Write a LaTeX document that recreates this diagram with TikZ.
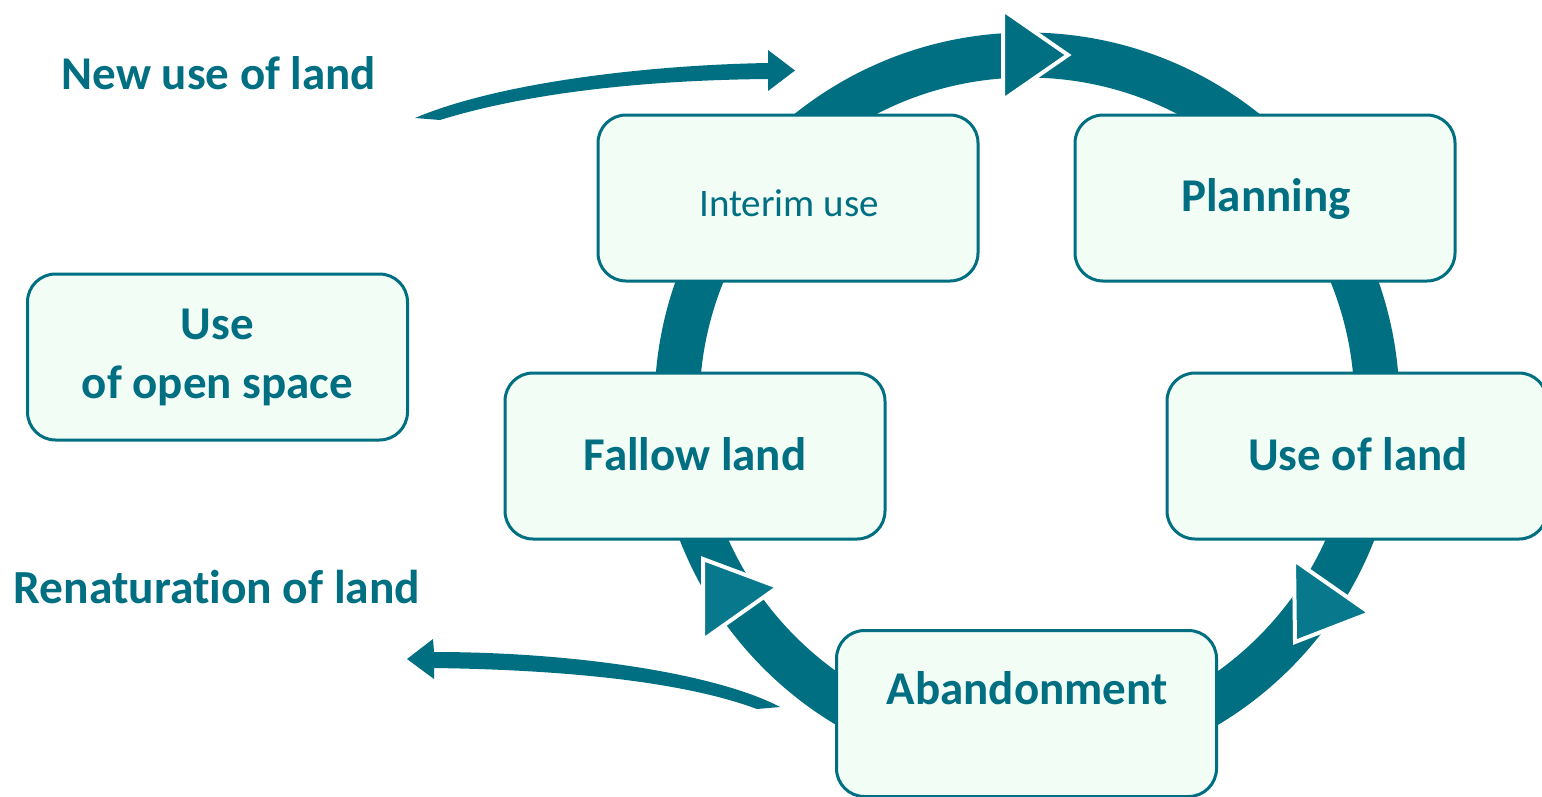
\documentclass[tikz,border=0pt]{standalone}
\usepackage{fontspec}
\setmainfont{Carlito}[Ligatures=NoCommon]
\definecolor{tealA}{HTML}{006F82}
\definecolor{tealB}{HTML}{08788D}
\definecolor{mint}{HTML}{F2FDF5}
\begin{document}
\begin{tikzpicture}[x=1pt,y=-1pt,
  box/.style={draw=tealA, line width=3pt, fill=mint, rounded corners=28pt,
    minimum width=380pt, minimum height=166pt, inner sep=0pt, text=tealA,
    font=\bfseries\fontsize{47}{59}\selectfont, align=center},
  lbl/.style={text=tealA, font=\bfseries\fontsize{47}{56}\selectfont, inner sep=0pt},
  ringline/.style={draw=tealA, line width=45pt},
  tri/.style={fill=tealA, draw=white, line width=4pt, line join=miter},
  bigarrow/.style={fill=tealA}]
\useasboundingbox (0,0) rectangle (1542,796);
\fill[white] (0,0) rectangle (1542,796);
% ring
\coordinate (c) at (1027,405);
\draw[ringline] (c) circle[radius=350pt];
% arrowheads on ring
\filldraw[tri] (1003,10) -- (1068,55) -- (1003,100) -- cycle;
\filldraw[tri, fill=tealB] (1294,560) -- (1370,613) -- (1295,642) -- cycle;
\filldraw[tri, fill=tealB] (703,559) -- (778,587) -- (703,640) -- cycle;
% curved arrows
\fill[bigarrow] (415,118) .. controls (500,82) and (650,65) .. (768,63)
  -- (768,50) -- (795,70.5) -- (768,91) -- (768,79)
  .. controls (650,80) and (530,92) .. (440,120) -- cycle;
\fill[bigarrow] (780,707) .. controls (720,675) and (580,652) .. (434,652)
  -- (433,639) -- (407,659) -- (434,679) -- (434,668)
  .. controls (580,670) and (690,684) .. (757,709) -- cycle;
% labels
\node[lbl] (newuse) at (219,73) {New use of land};
\node[lbl,font=\bfseries\fontsize{47.5}{56}\selectfont] (renat) at (217,587) {Renaturation of land};
% boxes
\node[box] (interim) at (788,198) {};
\node[lbl,font=\fontsize{39}{46}\selectfont] (interimT) at (789,203) {Interim use};
\node[box] (planning) at (1265,198) {};
\node[lbl] (planningT) at (1266,199) {Planning};
\node[box] (open) at (217.5,357) {Use\\of open space};
\node[box] (fallow) at (695,456) {};
\node[lbl] (fallowT) at (695,454) {Fallow land};
\node[box] (useland) at (1357,456) {};
\node[lbl] (uselandT) at (1358,454) {Use of land};
\node[box] (abandon) at (1026.5,713.5) {};
\node[lbl] (abandonT) at (1027,688) {Abandonment};
\end{tikzpicture}
\end{document}
